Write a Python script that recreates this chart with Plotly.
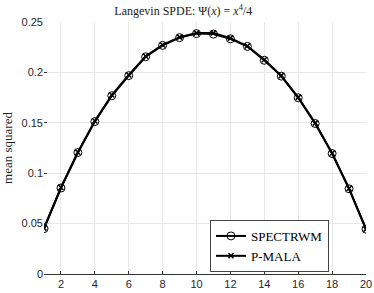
import plotly.graph_objects as go

x_vals = list(range(1, 21))
spectrwm = [0.0450, 0.0853, 0.1205, 0.1512, 0.1768, 0.1968, 0.2155, 0.2268, 0.2345, 0.2385,
            0.2380, 0.2333, 0.2258, 0.2120, 0.1963, 0.1748, 0.1493, 0.1195, 0.0845, 0.0445]
pmala = [0.0455, 0.0858, 0.1208, 0.1518, 0.1775, 0.1975, 0.2160, 0.2272, 0.2350, 0.2390,
         0.2390, 0.2340, 0.2262, 0.2125, 0.1968, 0.1752, 0.1497, 0.1198, 0.0848, 0.0445]
x_ticks = [2, 4, 6, 8, 10, 12, 14, 16, 18, 20]
y_ticks = [0, 0.05, 0.1, 0.15, 0.2, 0.25]
y_ticklabels = ["0", "0.05", "0.1", "0.15", "0.2", "0.25"]

fig = go.Figure()
fig.add_trace(go.Scatter(
    x=x_vals, y=spectrwm, mode="lines+markers", name="SPECTRWM",
    line=dict(color="black", width=2),
    marker=dict(symbol="circle-open", size=8, color="black", line=dict(width=1)),
))
fig.add_trace(go.Scatter(
    x=x_vals, y=pmala, mode="lines+markers", name="P-MALA",
    line=dict(color="black", width=2),
    marker=dict(symbol="x-thin-open", size=5, color="black", line=dict(width=1.5, color="black")),
))

fig.update_layout(
    width=374, height=293,
    margin=dict(l=44, r=8, t=22, b=19, autoexpand=False),
    paper_bgcolor="white", plot_bgcolor="white",
    title=dict(text="Langevin SPDE: Ψ(<i>x</i>) = <i>x</i><sup>4</sup>/4",
               x=0.49, xanchor="center", y=0.962, yanchor="middle",
               font=dict(family="Liberation Serif, serif", size=12, color="#222")),
    showlegend=True,
    legend=dict(x=0.885, xanchor="right", y=0.008, yanchor="bottom",
                bgcolor="white", bordercolor="#444", borderwidth=1,
                font=dict(family="Liberation Serif, serif", size=13, color="black"),
                tracegroupgap=0, itemwidth=30),
    xaxis=dict(range=[1, 20], tickvals=x_ticks, ticks="inside", ticklen=3,
               tickcolor="#333", showgrid=True, gridcolor="#e8e8e8", gridwidth=1,
               showline=True, linecolor="#333", linewidth=1, zeroline=False,
               automargin=False, ticklabeloverflow="allow",
               tickfont=dict(family="Liberation Sans, Arial, sans-serif", size=11, color="#262626")),
    yaxis=dict(range=[0, 0.25], tickvals=y_ticks, ticktext=y_ticklabels, ticks="inside",
               ticklen=3, tickcolor="#333", showgrid=True, gridcolor="#e8e8e8", gridwidth=1,
               showline=False, zeroline=False, automargin=False,
               title=dict(text="mean squared", standoff=8,
                          font=dict(family="Liberation Serif, serif", size=13, color="#222")),
               tickfont=dict(family="Liberation Sans, Arial, sans-serif", size=11, color="#262626")),
)

fig.write_html("out.html", config={"displayModeBar": False},
               post_script="document.body.style.margin='0';")
